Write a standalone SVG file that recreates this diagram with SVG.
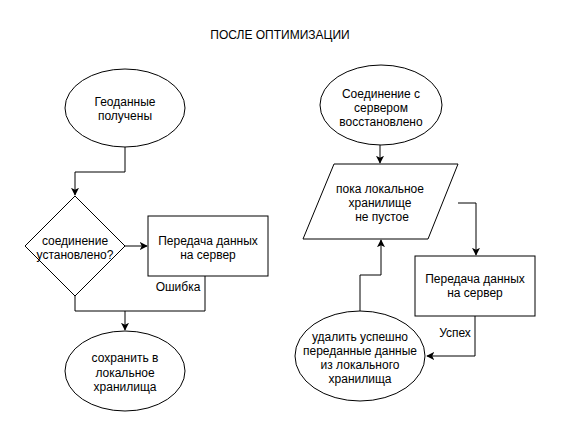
<svg xmlns="http://www.w3.org/2000/svg" width="561" height="437" viewBox="0 0 561 437">
<defs>
<style>
.s{fill:#fff;stroke:#000;stroke-width:1}
.c{fill:none;stroke:#000;stroke-width:1}
text{font-family:"Liberation Sans",Arial,sans-serif;font-size:12px;fill:#000;text-anchor:middle}
</style>
<marker id="a" viewBox="0 0 10 10" refX="9" refY="5" markerWidth="8" markerHeight="8" markerUnits="userSpaceOnUse" orient="auto">
<path d="M0,0 L10,5 L0,10 L2.5,5 Z" fill="#000"/>
</marker>
</defs>
<rect width="561" height="437" fill="#fff"/>
<text x="280" y="39">ПОСЛЕ ОПТИМИЗАЦИИ</text>
<g id="connectors">
<path class="c" d="M125,147 V172 H75 V195" marker-end="url(#a)"/>
<path class="c" d="M125,246 H147" marker-end="url(#a)"/>
<path class="c" d="M75,296 V311 H205 V276"/>
<path class="c" d="M125,311 V330" marker-end="url(#a)"/>
<text x="178" y="291">Ошибка</text>
<path class="c" d="M380,145 V163" marker-end="url(#a)"/>
<path class="c" d="M458,203 H476 V255" marker-end="url(#a)"/>
<path class="c" d="M475,316 V356 H427" marker-end="url(#a)"/>
<text x="455" y="337">Успех</text>
<path class="c" d="M360,311 V275 H381 V240" marker-end="url(#a)"/>
</g>
<g id="n1">
<ellipse class="s" cx="125" cy="108" rx="60" ry="39"/>
<text x="125" y="106">Геоданные</text>
<text x="125" y="120">получены</text>
</g>
<g id="n2">
<path class="s" d="M75,196 L125,246 L75,296 L25,246 Z"/>
<text x="75" y="245">соединение</text>
<text x="75" y="259">установлено?</text>
</g>
<g id="n3">
<rect class="s" x="148" y="216" width="120" height="60"/>
<text x="208" y="245">Передача данных</text>
<text x="208" y="259">на сервер</text>
</g>
<g id="n4">
<ellipse class="s" cx="125" cy="371" rx="60" ry="40"/>
<text x="125" y="362">сохранить в</text>
<text x="125" y="377">локальное</text>
<text x="125" y="391">хранилища</text>
</g>
<g id="n5">
<ellipse class="s" cx="381" cy="105" rx="61" ry="40"/>
<text x="381" y="98">Соединение с</text>
<text x="381" y="112">сервером</text>
<text x="381" y="126">восстановлено</text>
</g>
<g id="n6">
<path class="s" d="M334,164 H458 L428,239 H303 Z"/>
<text x="380" y="193">пока локальное</text>
<text x="380" y="207">хранилище</text>
<text x="382" y="221">не пустое</text>
</g>
<g id="n7">
<rect class="s" x="415" y="256" width="120" height="60"/>
<text x="475" y="283">Передача данных</text>
<text x="475" y="297">на сервер</text>
</g>
<g id="n8">
<ellipse class="s" cx="360" cy="356" rx="65" ry="45"/>
<text x="360" y="341">удалить успешно</text>
<text x="360" y="355">переданные данные</text>
<text x="360" y="369">из локального</text>
<text x="360" y="383">хранилища</text>
</g>
</svg>
